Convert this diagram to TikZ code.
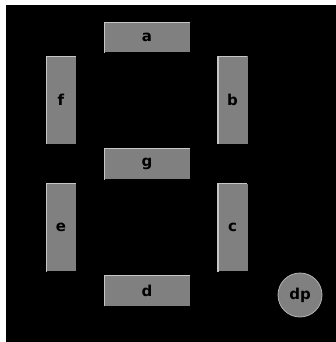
\documentclass[tikz,border=0pt]{standalone}
\usepackage{fontspec}
\setmainfont{DejaVu Sans}
\begin{document}
\begin{tikzpicture}[x=1pt,y=-1pt,
  seg/.style={fill=segfill,draw=none,inner sep=0pt,font=\bfseries\fontsize{15}{15}\selectfont},
  hseg/.style={seg,minimum width=86pt,minimum height=30pt},
  vseg/.style={seg,minimum width=30pt,minimum height=87pt},
  dot/.style={circle,fill=segfill,draw=segfill!60!white,line width=0.8pt,minimum size=44pt,inner sep=0pt,font=\bfseries\fontsize{15}{15}\selectfont},
  bevel/.style={draw=segfill!45!white,line width=1.2pt}]
\definecolor{segfill}{RGB}{128,128,128}
\useasboundingbox (0,0) rectangle (336,342);
\fill[white] (0,0) rectangle (336,342);
\fill[black] (6,5) rectangle (336,342);
\node[hseg] (a) at (147,37.5) {a};
\node[vseg] (f) at (61,100) {f};
\node[vseg] (b) at (232.5,100) {b};
\node[hseg] (g) at (147,164) {g};
\node[vseg] (e) at (61,227.5) {e};
\node[vseg] (c) at (232.5,227.5) {c};
\node[hseg] (d) at (147,290.5) {d};
\node[dot] (dp) at (300,295) {dp};
\foreach \n in {a,f,b,g,e,c,d}{
  \draw[bevel] ([yshift=-0.6pt]\n.south west) ++(0.6,0) |- ([xshift=-0.6pt]\n.north east);
}
\end{tikzpicture}
\end{document}
